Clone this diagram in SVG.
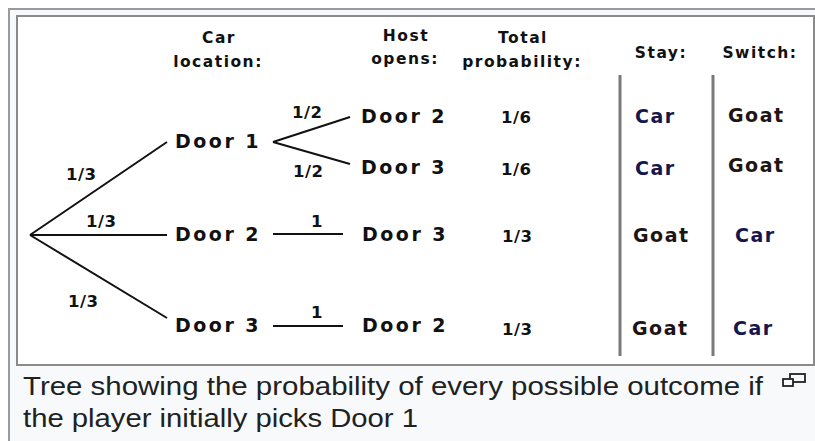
<svg xmlns="http://www.w3.org/2000/svg" width="815" height="441" viewBox="0 0 815 441">
<style>
.hd{font-family:"DejaVu Sans",sans-serif;font-weight:bold;font-size:15.5px;fill:#111;text-anchor:middle;letter-spacing:1.5px}
.nd{font-family:"DejaVu Sans",sans-serif;font-weight:bold;font-size:19px;fill:#111;letter-spacing:2.5px}
.pr{font-family:"DejaVu Sans",sans-serif;font-weight:bold;font-size:16.5px;fill:#111;letter-spacing:0.5px}
.car{fill:#16164e}
.goat{fill:#1e1414}
.ln{stroke:#111;stroke-width:2;fill:none}
.sep{stroke:#7a7a7a;stroke-width:3}
.cap{font-family:"Liberation Sans",Arial,sans-serif;font-size:25px;fill:#202122}
</style>
<rect x="0" y="0" width="815" height="441" fill="#ffffff"/>
<rect x="9" y="9" width="830" height="450" fill="#f8f9fa" stroke="#9a9a9a" stroke-width="2"/>
<rect x="17" y="16" width="797" height="349" fill="#ffffff" stroke="#8a8a8a" stroke-width="2"/>

<g id="headers">
<text class="hd" x="219" y="43">Car</text>
<text class="hd" x="218" y="67">location:</text>
<text class="hd" x="406" y="41">Host</text>
<text class="hd" x="405" y="64">opens:</text>
<text class="hd" x="523" y="43">Total</text>
<text class="hd" x="522" y="67">probability:</text>
<text class="hd" x="661" y="58">Stay:</text>
<text class="hd" x="760" y="58">Switch:</text>
</g>

<g id="connectors">
<line class="ln" x1="30" y1="235" x2="167" y2="142"/>
<line class="ln" x1="30" y1="235" x2="167" y2="235"/>
<line class="ln" x1="30" y1="235" x2="167" y2="318"/>
<line class="ln" x1="273" y1="142" x2="350" y2="117"/>
<line class="ln" x1="273" y1="142" x2="350" y2="164"/>
<line class="ln" x1="273" y1="234" x2="343" y2="234"/>
<line class="ln" x1="273" y1="326" x2="343" y2="326"/>
<text class="pr" x="66" y="180">1/3</text>
<text class="pr" x="86" y="227">1/3</text>
<text class="pr" x="68" y="307">1/3</text>
<text class="pr" x="292" y="118">1/2</text>
<text class="pr" x="293" y="177">1/2</text>
<text class="pr" x="311" y="227">1</text>
<text class="pr" x="311" y="318">1</text>
</g>

<g id="root"><circle cx="30" cy="235" r="0.1" fill="none"/></g>
<g id="car-door1"><text class="nd" x="175" y="148">Door 1</text></g>
<g id="car-door2"><text class="nd" x="175" y="241">Door 2</text></g>
<g id="car-door3"><text class="nd" x="175" y="332">Door 3</text></g>
<g id="host-1-2"><text class="nd" x="361" y="123">Door 2</text></g>
<g id="host-1-3"><text class="nd" x="361" y="174">Door 3</text></g>
<g id="host-2-3"><text class="nd" x="362" y="241">Door 3</text></g>
<g id="host-3-2"><text class="nd" x="362" y="332">Door 2</text></g>

<g id="probabilities">
<text class="pr" x="501" y="123">1/6</text>
<text class="pr" x="501" y="175">1/6</text>
<text class="pr" x="502" y="242">1/3</text>
<text class="pr" x="502" y="335">1/3</text>
</g>

<g id="separators">
<line class="sep" x1="620" y1="75" x2="620" y2="356"/>
<line class="sep" x1="713" y1="75" x2="713" y2="356"/>
</g>

<g id="stay">
<text class="nd car" x="635" y="123" style="letter-spacing:1.5px">Car</text>
<text class="nd car" x="635" y="175" style="letter-spacing:1.5px">Car</text>
<text class="nd goat" x="633" y="242" style="letter-spacing:1.5px">Goat</text>
<text class="nd goat" x="632" y="335" style="letter-spacing:1.5px">Goat</text>
</g>
<g id="switch">
<text class="nd goat" x="728" y="122" style="letter-spacing:1.5px">Goat</text>
<text class="nd goat" x="728" y="172" style="letter-spacing:1.5px">Goat</text>
<text class="nd car" x="735" y="242" style="letter-spacing:1.5px">Car</text>
<text class="nd car" x="733" y="335" style="letter-spacing:1.5px">Car</text>
</g>

<g id="caption">
<text class="cap" x="23" y="395" textLength="740" lengthAdjust="spacingAndGlyphs">Tree showing the probability of every possible outcome if</text>
<text class="cap" x="23" y="427" textLength="395" lengthAdjust="spacingAndGlyphs">the player initially picks Door 1</text>
<g fill="none" stroke="#222" stroke-width="1.8">
<rect x="790" y="374" width="15" height="8"/>
<rect x="783" y="379" width="10" height="7" fill="#f8f9fa"/>
</g>
</g>
</svg>
